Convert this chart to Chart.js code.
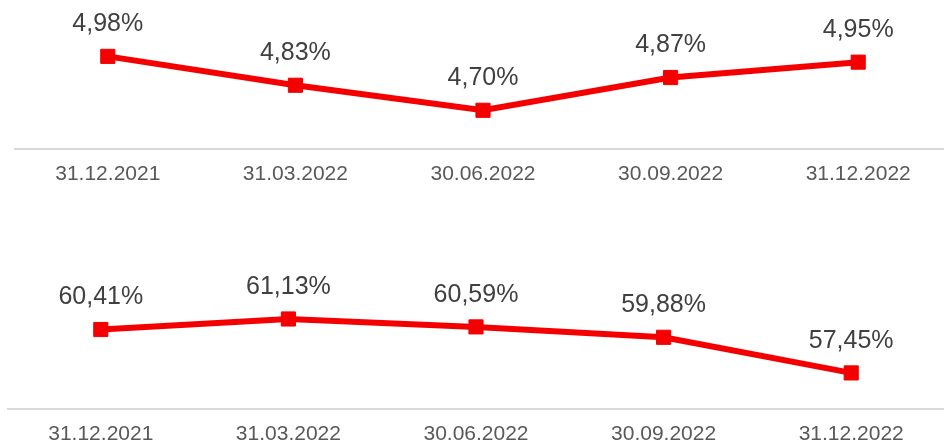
<!DOCTYPE html>
<html>
<head>
<meta charset="utf-8">
<script src="https://cdn.jsdelivr.net/npm/chart.js@4/dist/chart.umd.min.js"></script>
<style>
  html, body { margin: 0; padding: 0; background: #fff; overflow: hidden; width: 944px; height: 445px; }
  canvas { position: absolute; }
  #topChart { left: 14px; top: 0px; }
  #bottomChart { left: 7px; top: 260px; }
</style>
</head>
<body>
<canvas id="topChart" width="938" height="213"></canvas>
<canvas id="bottomChart" width="938" height="213"></canvas>
<script>
const dates = ['31.12.2021', '31.03.2022', '30.06.2022', '30.09.2022', '31.12.2022'];
const topValues = [4.98, 4.83, 4.70, 4.87, 4.95];
const bottomValues = [60.41, 61.13, 60.59, 59.88, 57.45];

const lineRed = '#f50000';
const fontFamily = "Arial, 'Liberation Sans', sans-serif";

function formatPercent(v) {
  return v.toFixed(2).replace('.', ',') + '%';
}

// draws the value above every point
const valueLabels = {
  id: 'valueLabels',
  afterDatasetsDraw(chart) {
    const ctx = chart.ctx;
    ctx.save();
    ctx.font = '25px ' + fontFamily;
    ctx.fillStyle = '#404040';
    ctx.textAlign = 'center';
    ctx.textBaseline = 'middle';
    chart.data.datasets.forEach((ds, i) => {
      chart.getDatasetMeta(i).data.forEach((pt, j) => {
        ctx.fillText(formatPercent(ds.data[j]), pt.x, pt.y - 32);
      });
    });
    ctx.restore();
  }
};

function makeChart(canvasId, values, yMin, yMax) {
  return new Chart(document.getElementById(canvasId), {
    type: 'line',
    data: {
      labels: dates,
      datasets: [{
        data: values,
        borderColor: lineRed,
        backgroundColor: lineRed,
        borderWidth: 6,
        pointStyle: 'rect',
        pointRadius: 10,
        pointBorderWidth: 1,
        pointBackgroundColor: lineRed,
        pointBorderColor: lineRed,
        tension: 0,
        clip: false
      }]
    },
    options: {
      responsive: false,
      animation: false,
      layout: { autoPadding: false, padding: { top: 14, bottom: 13, left: 0, right: 0 } },
      plugins: { legend: { display: false }, tooltip: { enabled: false } },
      scales: {
        x: {
          offset: true,
          grid: { display: false, drawTicks: false },
          border: { display: true, color: '#d9d9d9', width: 2 },
          ticks: { color: '#595959', font: { family: fontFamily, size: 21 }, padding: 13, maxRotation: 0 }
        },
        y: { display: false, min: yMin, max: yMax }
      }
    },
    plugins: [valueLabels]
  });
}

makeChart('topChart', topValues, 4.5, 5.2);
makeChart('bottomChart', bottomValues, 55, 64.2);
</script>
</body>
</html>
